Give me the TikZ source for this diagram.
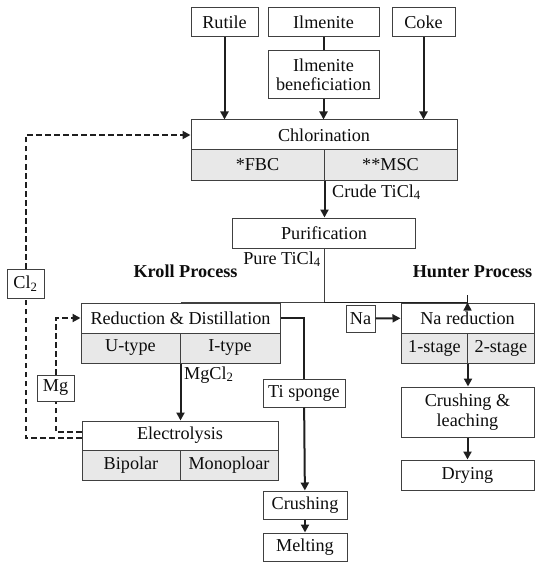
\documentclass[tikz,border=0pt]{standalone}
\usepackage{fontspec}
\setmainfont{Liberation Serif}
\usetikzlibrary{arrows.meta}

\begin{document}
\begin{tikzpicture}[x=1pt,y=-1pt,
    box/.style={draw=black!75,line width=1pt,inner sep=0pt,align=center,
        font=\fontsize{18.2}{19.5}\selectfont,text=black!95},
    sub/.style={box,fill=black!9},
    lbl/.style={inner sep=0pt,font=\fontsize{18.2}{19.5}\selectfont,text=black!95},
    arr/.style={draw=black!88,line width=2pt,-{Triangle[length=8pt,width=8pt]}},
    ln/.style={draw=black!88,line width=2pt},
    thin/.style={draw=black!75,line width=1pt},
    dsh/.style={draw=black!88,line width=2pt,dash pattern=on 5.5pt off 3.5pt}]
    \useasboundingbox (0,0) rectangle (536,564);
    \node[box,minimum width=67pt,minimum height=29pt] (rutile) at (224.5,22.5) {Rutile};
    \node[box,minimum width=111pt,minimum height=29pt] (ilm) at (323.5,22.5) {Ilmenite};
    \node[box,minimum width=63pt,minimum height=29pt] (coke) at (423.5,22.5) {Coke};
    \node[box,minimum width=111pt,minimum height=48pt] (benef) at (323.5,75) {Ilmenite\\beneficiation};
    \node[box,minimum width=266pt,minimum height=30pt] (chl) at (324,135) {Chlorination};
    \node[sub,minimum width=133pt,minimum height=30pt] (fbc) at (257.5,165) {*FBC};
    \node[sub,minimum width=133pt,minimum height=30pt] (msc) at (390.5,165) {**MSC};
    \node[lbl,anchor=west] (crude) at (332,192) {Crude TiCl\textsubscript{4}};
    \node[box,minimum width=183pt,minimum height=30pt] (pur) at (324,233) {Purification};
    \node[lbl,anchor=east] (pure) at (321,259) {Pure TiCl\textsubscript{4}};
    \node[lbl,font=\fontsize{18.2}{19.5}\selectfont\bfseries] (kroll) at (185.5,271) {Kroll Process};
    \node[lbl,font=\fontsize{18.2}{19.5}\selectfont\bfseries] (hunter) at (472.5,272) {Hunter Process};
    \node[box,minimum width=199pt,minimum height=30pt] (red) at (180.5,318) {Reduction \& Distillation};
    \node[sub,minimum width=99pt,minimum height=30pt] (utype) at (130.5,348) {U-type};
    \node[sub,minimum width=100pt,minimum height=30pt] (itype) at (230,348) {I-type};
    \node[lbl,anchor=west] (mgcl) at (184,375) {MgCl\textsubscript{2}};
    \node[box,minimum width=196pt,minimum height=29pt] (elec) at (180,435.5) {Electrolysis};
    \node[sub,minimum width=98pt,minimum height=30pt] (bip) at (131,465) {Bipolar};
    \node[sub,minimum width=98pt,minimum height=30pt] (mono) at (229,465) {Monoploar};
    \node[box,minimum width=37pt,minimum height=26pt] (mg) at (55.5,388) {Mg};
    \node[box,minimum width=37pt,minimum height=29pt] (cl) at (25.5,283.5) {Cl\textsubscript{2}};
    \node[box,minimum width=82pt,minimum height=28pt] (sponge) at (304,393) {Ti sponge};
    \node[box,minimum width=84pt,minimum height=28pt] (crush) at (305,505) {Crushing};
    \node[box,minimum width=84pt,minimum height=28pt] (melt) at (305,547) {Melting};
    \node[box,minimum width=29pt,minimum height=27pt] (na) at (360.5,318.5) {Na};
    \node[box,minimum width=133pt,minimum height=30pt] (nared) at (467.5,318) {Na reduction};
    \node[sub,minimum width=66pt,minimum height=30pt] (stone) at (434.5,348) {1-stage};
    \node[sub,minimum width=67pt,minimum height=30pt] (sttwo) at (501,348) {2-stage};
    \node[box,minimum width=133pt,minimum height=50pt] (leach) at (467.5,412) {Crushing \&\\leaching};
    \node[box,minimum width=133pt,minimum height=30pt] (dry) at (467.5,475) {Drying};
    \draw[arr] (rutile) -- (rutile |- chl.north);
    \draw[ln] (ilm) -- (benef);
    \draw[arr] (benef) -- (benef |- chl.north);
    \draw[arr] (coke) -- (coke |- chl.north);
    \draw[arr] (fbc.south east) -- (fbc.south east |- pur.north);
    \draw[thin] (pur.south) -- ++(0,54) coordinate (br);
    \draw[thin] (red.north) |- (br);
    \draw[arr,line width=1.4pt] (br) -| (nared.north);
    \draw[arr] (na) -- (nared);
    \draw[arr] (stone.south east) -- (stone.south east |- leach.north);
    \draw[arr] (leach) -- (dry);
    \draw[ln,line width=1.4pt] (red.east) -| (sponge.north);
    \draw[arr] (sponge) -- (crush);
    \draw[arr] (crush) -- (melt);
    \draw[arr] (utype.south east) -- (utype.south east |- elec.north);
    \draw[dsh] ([yshift=3.5pt]elec.west) -| (mg.south);
    \draw[dsh,-{Triangle[length=8pt,width=8pt]}] (mg.north) |- (red.west);
    \draw[dsh] ([yshift=-2.5pt]elec.west) -| (cl.south);
    \draw[dsh,-{Triangle[length=8pt,width=8pt]}] (cl.north) |- (chl.west);
\end{tikzpicture}
\end{document}
